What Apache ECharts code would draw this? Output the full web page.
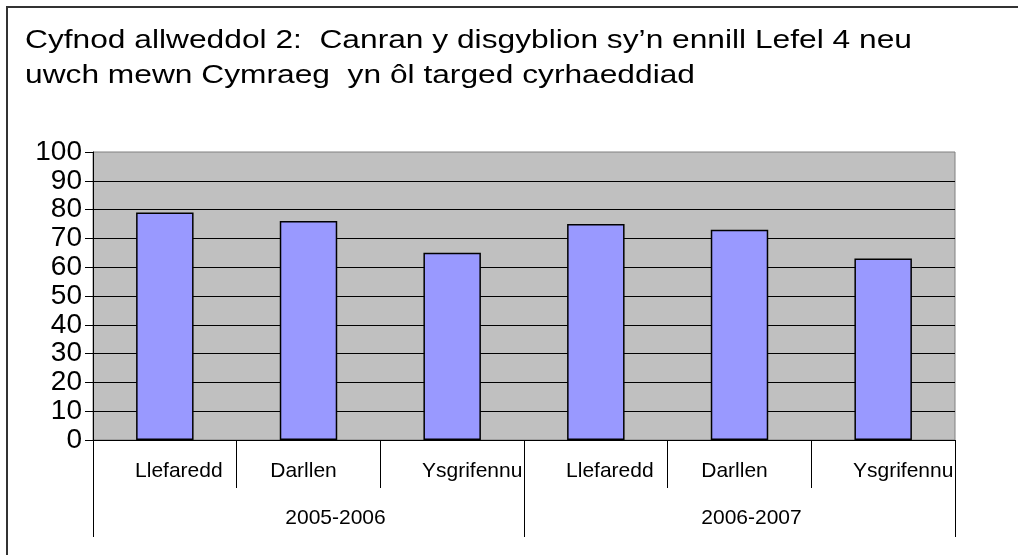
<!DOCTYPE html>
<html>
<head>
<meta charset="utf-8">
<script src="https://cdn.jsdelivr.net/npm/echarts@6/dist/echarts.min.js"></script>
<style>
  html, body { margin: 0; padding: 0; background: #fff; }
  #chart { width: 1018px; height: 555px; }
</style>
</head>
<body>
<div id="chart"></div>
<script>
const titleLines = [
  "Cyfnod allweddol 2:  Canran y disgyblion sy’n ennill Lefel 4 neu",
  "uwch mewn Cymraeg  yn ôl targed cyrhaeddiad"
];
const skills = ["Llefaredd", "Darllen", "Ysgrifennu", "Llefaredd", "Darllen", "Ysgrifennu"];
const years = ["2005-2006", "2006-2007"];
const percentValues = [79, 76, 65, 75, 73, 63];
const yMin = 0, yMax = 100, yStep = 10;

const font = "'Liberation Sans', Arial, sans-serif";
const chart = echarts.init(document.getElementById("chart"));

// excel pushes the labels a bit off-centre, copy that
const skillRich = {
  s0: { fontFamily: font, fontSize: 21, color: "#000", padding: [0, 0, 0, 28] },
  s1: { fontFamily: font, fontSize: 21, color: "#000", padding: [0, 10, 0, 0] },
  s2: { fontFamily: font, fontSize: 21, color: "#000", padding: [0, 0, 0, 40] }
};
const yearRich = {
  g0: { fontFamily: font, fontSize: 21, color: "#000", padding: [0, 0, 0, 54] },
  g1: { fontFamily: font, fontSize: 21, color: "#000", padding: [0, 0, 0, 24] }
};

const gridBox = { left: 93, top: 152, width: 862, height: 288 };

let option = {
  animation: false,
  backgroundColor: "#fff",
  graphic: [
    {
      type: "rect",
      shape: { x: 7, y: 7, width: 1100, height: 700 },
      style: { fill: null, stroke: "#333", lineWidth: 2 },
      silent: true
    },
    {
      // the title in the original is stretched sideways
      type: "text",
      x: 25,
      y: 23,
      scaleX: 1.22,
      silent: true,
      style: {
        text: titleLines.join("\n"),
        font: "26px 'Liberation Sans', Arial, sans-serif",
        fill: "#000",
        lineHeight: 35,
        verticalAlign: "top",
        align: "left"
      }
    }
  ],
  grid: [
    Object.assign({
      show: true,
      backgroundColor: "#c0c0c0",
      borderColor: "#808080",
      borderWidth: 1
    }, gridBox),
    Object.assign({ show: false }, gridBox)
  ],
  xAxis: [
    {
      type: "category",
      gridIndex: 0,
      data: skills,
      axisLine: { lineStyle: { color: "#000", width: 1 } },
      axisTick: { show: true, interval: 0, length: 48, lineStyle: { color: "#000" } },
      axisLabel: {
        interval: 0,
        margin: 31,
        verticalAlign: "middle",
        formatter: (v, i) => "{s" + (i % 3) + "|" + v + "}",
        rich: skillRich
      }
    },
    {
      type: "category",
      gridIndex: 1,
      data: years,
      axisLine: { show: false },
      axisTick: { show: true, interval: 0, length: 97, lineStyle: { color: "#000" } },
      axisLabel: {
        interval: 0,
        margin: 78,
        verticalAlign: "middle",
        formatter: (v, i) => "{g" + i + "|" + v + "}",
        rich: yearRich
      }
    }
  ],
  yAxis: [
    {
      type: "value",
      gridIndex: 0,
      min: yMin,
      max: yMax,
      interval: yStep,
      axisLine: { show: true, lineStyle: { color: "#000", width: 1 } },
      axisTick: { show: true, length: 8, lineStyle: { color: "#000" } },
      axisLabel: {
        margin: 11,
        fontFamily: font,
        fontSize: 28,
        lineHeight: 20,
        color: "#000",
        showMinLabel: true,
        showMaxLabel: true,
        hideOverlap: false,
        textMargin: 0,
        minMargin: 0
      },
      splitLine: {
        show: true,
        showMinLine: false,
        showMaxLine: false,
        lineStyle: { color: "#000", width: 1 }
      }
    },
    {
      type: "value",
      gridIndex: 1,
      show: false,
      min: yMin,
      max: yMax
    }
  ],
  series: [{
    type: "bar",
    xAxisIndex: 0,
    yAxisIndex: 0,
    data: percentValues,
    barWidth: "40%",
    itemStyle: {
      color: "#9999ff",
      borderColor: "#000",
      borderWidth: 1.5
    }
  }]
};
chart.setOption(option);
window.addEventListener("resize", () => {
  chart && chart.resize();
});
</script>
</body>
</html>
